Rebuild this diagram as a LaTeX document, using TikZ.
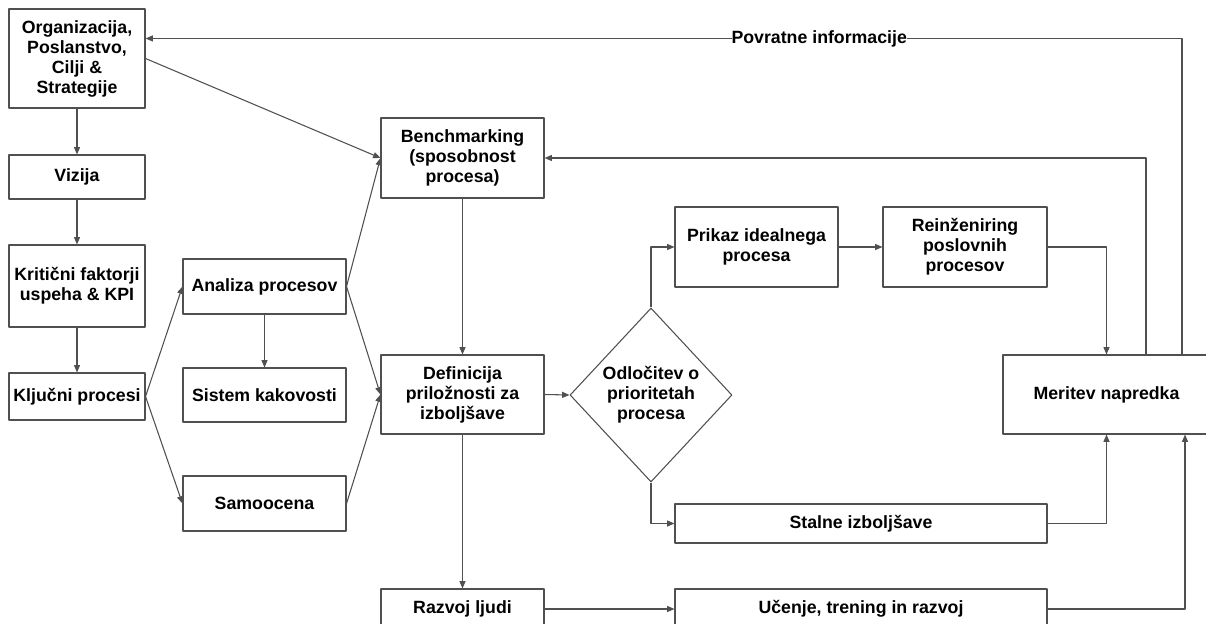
\documentclass[tikz,border=0pt]{standalone}
\usepackage{fontspec}
\setmainfont{Liberation Sans}
\usetikzlibrary{shapes.geometric,arrows.meta,calc}
\definecolor{linegray}{RGB}{80,80,80}
\begin{document}
\begin{tikzpicture}[x=0.75pt, y=-0.75pt, font=\fontsize{13.3}{15}\selectfont\bfseries, line join=round, >={Triangle[length=5.5pt,width=4.5pt]},
	box/.style={draw=linegray, line width=0.8pt, align=center, inner sep=0pt},
	conn/.style={draw=linegray, line width=0.8pt}]
	\useasboundingbox (0,0) rectangle (1206,624);
	\clip (0,0) rectangle (1206,624);
	% left column
	\node[box, minimum width=102pt, minimum height=74.25pt] (org) at (77,58.5) {Organizacija,\\Poslanstvo,\\Cilji \&\\Strategije};
	\node[box, minimum width=102pt, minimum height=33pt] (viz) at (77,177) {Vizija};
	\node[box, minimum width=102pt, minimum height=61.5pt] (krit) at (77,286) {Kritični faktorji\\uspeha \& KPI};
	\node[box, minimum width=102pt, minimum height=35.25pt] (klj) at (77,396.5) {Ključni procesi};
	\node[box, minimum width=122.25pt, minimum height=41.25pt] (anal) at (264.5,286.5) {Analiza procesov};
	\node[box, minimum width=122.25pt, minimum height=40.5pt] (sist) at (264.5,395) {Sistem kakovosti};
	\node[box, minimum width=122.25pt, minimum height=41.25pt] (samo) at (264.5,503.5) {Samoocena};
	% middle
	\node[box, minimum width=122.25pt, minimum height=60pt] (bench) at (462.5,158) {Benchmarking\\(sposobnost\\procesa)};
	\node[box, minimum width=122.25pt, minimum height=59.25pt] (def) at (462.5,394.5) {Definicija\\priložnosti za\\izboljšave};
	\node[box, minimum width=122.25pt, minimum height=30pt] (razv) at (462.5,609) {Razvoj ljudi};
	\node[box, diamond, minimum width=121.5pt, minimum height=130.5pt] (odl) at (651,395) {Odločitev o\\prioritetah\\procesa};
	% right
	\node[box, minimum width=122.25pt, minimum height=60pt] (prik) at (756.5,247) {Prikaz idealnega\\procesa};
	\node[box, minimum width=123pt, minimum height=60pt] (rein) at (965,247) {Reinženiring\\poslovnih\\procesov};
	\node[box, minimum width=155.25pt, minimum height=59.25pt] (mer) at (1106.5,394.5) {Meritev napredka};
	\node[box, minimum width=279pt, minimum height=29.25pt] (stal) at (861,523.5) {Stalne izboljšave};
	\node[box, minimum width=279pt, minimum height=30pt] (uc) at (861,609) {Učenje, trening in razvoj};
	\path (mer.north)+(39.5,0) coordinate (m1) +(75.5,0) coordinate (m2);
	\path (mer.south)+(78.5,0) coordinate (m3);
	\path (org.north east)+(0,30) coordinate (o1);
	\foreach \a/\b in {org.south/viz.north, viz.south/krit.north, krit.south/klj.north, klj.east/anal.west, klj.east/samo.west, anal.south/sist.north, org.east/bench.west, anal.east/bench.west, anal.east/def.west, samo.east/def.west, bench.south/def.north, def.south/razv.north, def.east/odl.west, razv.east/uc.west, prik.east/rein.west}
		\draw[conn,->] (\a) -- (\b);
	\draw[conn,->] (odl.north) |- (prik.west);
	\draw[conn,->] (odl.south) |- (stal.west);
	\draw[conn,->] (rein.east) -| (mer.north);
	\draw[conn,->] (stal.east) -| (mer.south);
	\draw[conn,->] (uc.east) -| (m3);
	\draw[conn,->] (m1) |- (bench.east);
	\draw[conn,->] (m2) |- (o1) node[pos=0.675, fill=white, inner sep=0pt] (fb) {Povratne informacije};
\end{tikzpicture}
\end{document}
